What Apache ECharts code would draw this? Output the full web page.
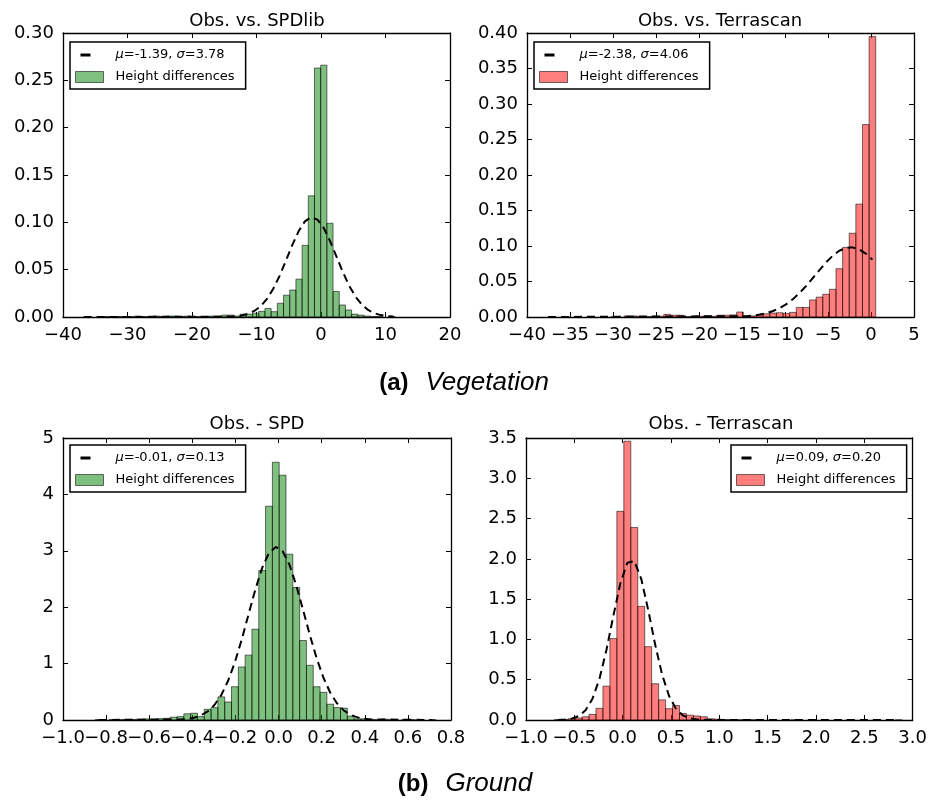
<!DOCTYPE html>
<html>
<head>
<meta charset="utf-8">
<script src="https://cdn.jsdelivr.net/npm/echarts@6.0.0/dist/echarts.min.js"></script>
<style>html,body{margin:0;padding:0;background:#fff}#chart{width:930px;height:800px}</style>
</head>
<body>
<div id="chart"></div>
<script>
// ---------- texts ----------
const titles = ['Obs. vs. SPDlib', 'Obs. vs. Terrascan', 'Obs. - SPD', 'Obs. - Terrascan'];
const fitLabels = ['μ=-1.39, σ=3.78', 'μ=-2.38, σ=4.06', 'μ=-0.01, σ=0.13', 'μ=0.09, σ=0.20'];
const histLabel = 'Height differences';
const captionA = ['(a)', 'Vegetation'];
const captionB = ['(b)', 'Ground'];

// ---------- axis ranges [min, max, interval] and label decimals ----------
const p1XRange = [-40, 20, 10], p1YRange = [0, 0.30, 0.05], p1Dec = [0, 2];
const p2XRange = [-40, 5, 5],   p2YRange = [0, 0.40, 0.05], p2Dec = [0, 2];
const p3XRange = [-1.0, 0.8, 0.2], p3YRange = [0, 5, 1],    p3Dec = [1, 0];
const p4XRange = [-1.0, 3.0, 0.5], p4YRange = [0, 3.5, 0.5], p4Dec = [1, 1];

// ---------- panel 1 : Obs. vs. SPDlib (histogram, 50 bins) ----------
const p1BinStart = -36.53, p1BinWidth = 0.96;
const p1Heights = [0, 0, 0.0005, 0.0005, 0.0005, 0.0005, 0, 0.0005, 0.001, 0.0005,
  0.0005, 0.001, 0.0005, 0.001, 0.001, 0.0005, 0.001, 0.0005, 0.0005, 0.0005,
  0.001, 0.001, 0.002, 0.002, 0.001, 0.003, 0.003, 0.004, 0.006, 0.009,
  0.0056, 0.0145, 0.023, 0.0285, 0.040, 0.0757, 0.128, 0.263, 0.266, 0.099,
  0.027, 0.0127, 0.0074, 0.003, 0.002, 0.001, 0.0005, 0.0005, 0, 0.0005];
const p1CurveX = [-36.8, -14.26, -13.28, -12.30, -11.32, -10.34, -9.36, -8.38, -7.40, -6.42, -5.44, -4.46, -3.48, -2.50,
  -1.52, -0.54, 0.44, 1.42, 2.40, 3.38, 4.36, 5.34, 6.32, 7.30, 8.28, 9.26, 10.24, 11.22];
const p1CurveY = [0, 0.0003, 0.00075, 0.0016, 0.0034, 0.0064, 0.0114, 0.0191, 0.0298, 0.0435, 0.0594, 0.0759, 0.0905, 0.1010,
  0.1054, 0.1029, 0.0938, 0.0800, 0.0638, 0.0476, 0.0332, 0.0216, 0.0132, 0.0075, 0.0040, 0.0020, 0.0009, 0.0004];

// ---------- panel 2 : Obs. vs. Terrascan ----------
const p2BinStart = -37.95, p2BinWidth = 0.77;
const p2Heights = [0, 0, 0, 0, 0, 0, 0, 0, 0, 0,
  0.0005, 0, 0.0015, 0.0015, 0.0005, 0.0005, 0.001, 0.001, 0.0038, 0.0025,
  0.0025, 0.0005, 0.0005, 0.001, 0.0015, 0.001, 0.0025, 0.0025, 0.003, 0.007,
  0.001, 0.0015, 0.003, 0.0045, 0.0055, 0.006, 0.005, 0.0065, 0.0135, 0.0135,
  0.024, 0.028, 0.032, 0.039, 0.068, 0.098, 0.118, 0.159, 0.271, 0.395];
const p2CurveX = [-37.565, -14.465, -13.695, -12.925, -12.155, -11.385, -10.615, -9.845, -9.075, -8.305, -7.535,
  -6.765, -5.995, -5.225, -4.455, -3.685, -2.915, -2.145, -1.375, -0.605, 0.165];
const p2CurveY = [0, 0.0012, 0.0020, 0.0034, 0.0054, 0.0084, 0.0126, 0.0181, 0.0252, 0.0339, 0.0439,
  0.0549, 0.0661, 0.0769, 0.0863, 0.0933, 0.0974, 0.0981, 0.0953, 0.0893, 0.0808];

// ---------- panel 3 : Obs. - SPD ----------
const p3BinStart = -0.8502, p3BinWidth = 0.0316;
const p3Heights = [0.005, 0, 0.005, 0.005, 0.01, 0.01, 0.015, 0.02, 0.02, 0.025,
  0.03, 0.05, 0.06, 0.11, 0.12, 0.06, 0.19, 0.22, 0.41, 0.32,
  0.59, 0.94, 1.15, 1.61, 2.65, 3.79, 4.57, 4.34, 2.94, 2.35,
  1.41, 0.97, 0.59, 0.49, 0.28, 0.22, 0.21, 0.07, 0.02, 0.02,
  0.01, 0.005, 0.015, 0.005, 0, 0.01, 0.005, 0, 0, 0.005];
const p3CurveX = [-0.8344, -0.455, -0.4236, -0.392, -0.3604, -0.3288, -0.2972, -0.2656, -0.234, -0.2024, -0.1708,
  -0.1392, -0.1076, -0.076, -0.0444, -0.0128, 0.0188, 0.0504, 0.082, 0.1136, 0.1452, 0.1768, 0.2084,
  0.24, 0.2716, 0.3032, 0.3348, 0.3664, 0.398, 0.4296, 0.714];
const p3CurveY = [0, 0.0087, 0.0195, 0.0409, 0.0811, 0.1517, 0.2676, 0.444, 0.6955, 1.027, 1.428,
  1.873, 2.315, 2.698, 2.963, 3.069, 2.995, 2.755, 2.389, 1.953, 1.505, 1.093, 0.749,
  0.483, 0.294, 0.169, 0.091, 0.046, 0.022, 0.010, 0];

// ---------- panel 4 : Obs. - Terrascan ----------
const p4BinStart = -0.708, p4BinWidth = 0.072;
const p4Heights = [0.003, 0.005, 0.015, 0.025, 0.04, 0.07, 0.145, 0.42, 1.01, 2.59,
  3.46, 2.39, 1.41, 0.91, 0.45, 0.25, 0.14, 0.18, 0.08, 0.06,
  0.05, 0.04, 0.015, 0.01, 0.005, 0.003, 0.002, 0.002, 0.001, 0.001,
  0, 0.001, 0, 0, 0.001, 0, 0, 0, 0, 0,
  0, 0, 0.001, 0, 0, 0, 0, 0, 0, 0.001];
const p4CurveX = [-0.672, -0.6, -0.528, -0.456, -0.384, -0.312, -0.24, -0.168, -0.096, -0.024, 0.048, 0.12,
  0.192, 0.264, 0.336, 0.408, 0.48, 0.552, 0.624, 0.696, 0.768, 0.84, 0.912, 2.856];
const p4CurveY = [0.0014, 0.0052, 0.0169, 0.0481, 0.1203, 0.2646, 0.5115, 0.868, 1.294, 1.696, 1.951, 1.972,
  1.752, 1.366, 0.936, 0.564, 0.298, 0.138, 0.0565, 0.0202, 0.0064, 0.0018, 0.0004, 0];

// ---------- styling ----------
const FONT = 'DejaVu Sans';
const CAP_FONT = 'Liberation Sans';
const GREEN = 'rgba(0,128,0,0.5)';
const RED = 'rgba(255,0,0,0.5)';
const EDGE = 'rgba(0,0,0,0.55)';
const DASH_ICON = 'path://M0,0M35,11M5,4L15,4L15,7L5,7Z';
const RECT_ICON = 'path://M0,0M35,11M0,0L28,0L28,11L0,11Z';

const panels = [
  {grid: {left: 63, top: 33, width: 387, height: 284}, xr: p1XRange, yr: p1YRange, dec: p1Dec,
   start: p1BinStart, w: p1BinWidth, h: p1Heights, cx: p1CurveX, cy: p1CurveY, fill: GREEN,
   fit: fitLabels[0], legend: {left: 70, top: 42}, title: {x: 257, y: 21, text: titles[0]}},
  {grid: {left: 527, top: 33, width: 387, height: 284}, xr: p2XRange, yr: p2YRange, dec: p2Dec,
   start: p2BinStart, w: p2BinWidth, h: p2Heights, cx: p2CurveX, cy: p2CurveY, fill: RED,
   fit: fitLabels[1], legend: {left: 534, top: 42}, title: {x: 720, y: 21, text: titles[1]}},
  {grid: {left: 63, top: 438, width: 388, height: 282}, xr: p3XRange, yr: p3YRange, dec: p3Dec,
   start: p3BinStart, w: p3BinWidth, h: p3Heights, cx: p3CurveX, cy: p3CurveY, fill: GREEN,
   fit: fitLabels[2], legend: {left: 70, top: 445}, title: {x: 257, y: 424, text: titles[2]}},
  {grid: {left: 526, top: 438, width: 387, height: 282}, xr: p4XRange, yr: p4YRange, dec: p4Dec,
   start: p4BinStart, w: p4BinWidth, h: p4Heights, cx: p4CurveX, cy: p4CurveY, fill: RED,
   fit: fitLabels[3], legend: {left: 731, top: 445}, title: {x: 721, y: 424, text: titles[3]}}
];

function fmt(v, d) {
  const r = Math.round(v * 1e6) / 1e6;
  const s = Math.abs(r).toFixed(d);
  return (r < 0 && parseFloat(s) !== 0 ? '\u2212' : '') + s;
}

// parity: null = all labels, 0 = even-indexed labels only, 1 = odd-indexed labels only
function valAxis(gridIndex, range, decimals, position, showLabel, parity, showLine) {
  return {
    type: 'value', gridIndex: gridIndex, position: position,
    min: range[0], max: range[1], interval: range[2],
    axisLine: {show: showLine, onZero: false, lineStyle: {color: '#000', width: 1.3}},
    axisTick: {show: showLine, inside: true, length: 5, lineStyle: {color: '#000', width: 1}},
    splitLine: {show: false},
    axisLabel: {show: showLabel, margin: 9, color: '#000', fontFamily: FONT, fontSize: 18,
      showMinLabel: true, showMaxLabel: true, hideOverlap: false,
      formatter: function (v) {
        if (parity !== null) {
          const idx = Math.round((v - range[0]) / range[2]);
          if (idx % 2 !== parity) return '';
        }
        return fmt(v, decimals);
      }}
  };
}

function barRenderer(fill) {
  return function (params, api) {
    const x0 = api.value(0), x1 = api.value(1), h = api.value(2);
    const a = api.coord([x0, 0]);
    const b = api.coord([x1, h]);
    return {
      type: 'rect',
      shape: {x: a[0], y: b[1], width: b[0] - a[0], height: a[1] - b[1]},
      style: {fill: fill, stroke: EDGE, lineWidth: 1}
    };
  };
}

const grid = [], xAxis = [], yAxis = [], series = [], legend = [], graphic = [];

panels.forEach(function (p, i) {
  grid.push(p.grid);
  // bottom axis (line, ticks, even labels), second bottom axis (odd labels), top axis (ticks only)
  xAxis.push(valAxis(i, p.xr, p.dec[0], 'bottom', true, 0, true));
  xAxis.push(valAxis(i, p.xr, p.dec[0], 'bottom', true, 1, false));
  xAxis.push(valAxis(i, p.xr, p.dec[0], 'top', false, null, true));
  yAxis.push(valAxis(i, p.yr, p.dec[1], 'left', true, null, true));
  yAxis.push(valAxis(i, p.yr, p.dec[1], 'right', false, null, true));

  const bars = [];
  p.h.forEach(function (h, k) {
    if (h > 0) bars.push([p.start + k * p.w, p.start + (k + 1) * p.w, h]);
  });
  series.push({
    type: 'custom', name: histLabel, xAxisIndex: 3 * i, yAxisIndex: 2 * i,
    renderItem: barRenderer(p.fill), data: bars, encode: {x: [0, 1], y: 2},
    itemStyle: {color: p.fill}, z: 2, silent: true
  });
  series.push({
    type: 'line', name: p.fit, xAxisIndex: 3 * i, yAxisIndex: 2 * i,
    data: p.cx.map(function (x, j) { return [x, p.cy[j]]; }),
    symbol: 'none', lineStyle: {color: '#000', width: 2, type: [8, 5]},
    itemStyle: {color: '#000'}, z: 3, silent: true
  });

  legend.push({
    orient: 'vertical', left: p.legend.left, top: p.legend.top,
    padding: [6, 11, 5, 5], itemGap: 8, itemWidth: 35, itemHeight: 11,
    borderColor: '#000', borderWidth: 1.5, backgroundColor: '#fff', borderRadius: 0,
    selectedMode: false,
    textStyle: {fontFamily: FONT, fontSize: 13, color: '#000', lineHeight: 14,
      rich: {g: {fontFamily: FONT, fontSize: 13, fontStyle: 'italic', color: '#000', lineHeight: 14}}},
    formatter: function (n) { return n.replace(/([μσ])/g, '{g|$1}'); },
    data: [
      {name: p.fit, icon: DASH_ICON, itemStyle: {color: '#000', borderWidth: 0}},
      {name: histLabel, icon: RECT_ICON, itemStyle: {color: p.fill, borderColor: EDGE, borderWidth: 1}}
    ]
  });

  graphic.push({
    type: 'text', x: p.title.x, y: p.title.y, silent: true,
    style: {text: p.title.text, font: '18px "' + FONT + '"', fill: '#000',
      align: 'center', verticalAlign: 'middle', textAlign: 'center', textVerticalAlign: 'middle'}
  });
});

function caption(parts, x, y) {
  return {
    type: 'text', x: x, y: y, silent: true,
    style: {
      text: '{b|' + parts[0] + '}{i|' + parts[1] + '}',
      align: 'center', verticalAlign: 'middle', textAlign: 'center', textVerticalAlign: 'middle',
      fill: '#000',
      rich: {
        b: {fontFamily: CAP_FONT, fontSize: 24, fontWeight: 'bold', fill: '#000'},
        i: {fontFamily: CAP_FONT, fontSize: 26, fontStyle: 'italic', fill: '#000', padding: [0, 0, 0, 17]}
      }
    }
  };
}
graphic.push(caption(captionA, 464, 383));
graphic.push(caption(captionB, 465, 784));

const chart = echarts.init(document.getElementById('chart'), null, {renderer: 'canvas'});
chart.setOption({
  backgroundColor: '#fff',
  animation: false,
  grid: grid, xAxis: xAxis, yAxis: yAxis, series: series, legend: legend, graphic: graphic
});
</script>
</body>
</html>
